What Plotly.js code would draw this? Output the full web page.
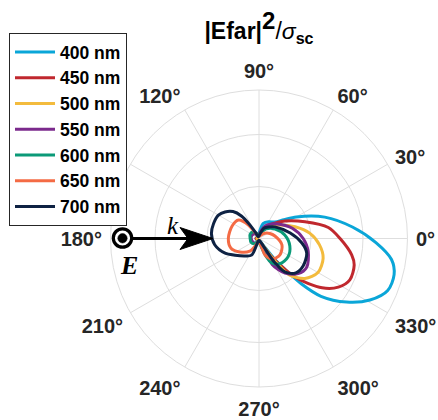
<!DOCTYPE html>
<html>
<head>
<meta charset="utf-8">
<script src="https://cdn.plot.ly/plotly-3.0.1.min.js"></script>
<style>
  html, body { margin: 0; padding: 0; background: #fff; }
  #chart { width: 438px; height: 420px; }
</style>
</head>
<body>
<div id="chart"></div>
<script>
// Far-field scattering patterns |Efar|^2 / sigma_sc for each wavelength
const wavelengths = ['400 nm', '450 nm', '500 nm', '550 nm', '600 nm', '650 nm', '700 nm'];
const colors = ['#0aa6d8', '#c0282e', '#f3bb3d', '#7b2a8c', '#0b9a78', '#f46b45', '#0e2243'];

const theta400 = [-90, -70, -58, -53, -50, -47, -43, -36, -29, -22, -15, -9, -2, 7, 18, 30, 37, 46, 60, 74, 84, 95, 130, 180, 230, 270];
const r400     = [0.04, 0.06, 0.15, 0.48, 0.77, 1.19, 1.63, 2.08, 2.44, 2.67, 2.69, 2.58, 2.25, 1.81, 1.33, 0.83, 0.60, 0.44, 0.37, 0.30, 0.15, 0.06, 0.04, 0.06, 0.04, 0.04];

const theta450 = [-90, -75, -60, -55, -52, -47, -38, -31.5, -24.5, -15.5, -10, 0, 9, 20, 34, 48, 58, 70, 85, 110, 180, 270];
const r450     = [0.04, 0.06, 0.19, 0.42, 0.62, 1.02, 1.54, 1.79, 1.92, 1.90, 1.81, 1.56, 1.35, 0.94, 0.60, 0.38, 0.28, 0.17, 0.08, 0.04, 0.06, 0.04];

const theta500 = [-90, -75, -62, -56, -53, -50, -41, -30, -17, -6, 6, 18, 33, 47, 60, 75, 90, 120, 180, 270];
const r500     = [0.04, 0.06, 0.12, 0.42, 0.67, 0.92, 1.17, 1.31, 1.29, 1.17, 0.98, 0.73, 0.48, 0.33, 0.23, 0.13, 0.06, 0.04, 0.04, 0.04];

const theta550 = [-90, -80, -70, -66, -63, -58, -53, -42, -31, -15, 0, 17, 37, 52, 64, 80, 100, 130, 155, 180, 220, 250, 270];
const r550     = [0.06, 0.08, 0.15, 0.29, 0.56, 0.71, 0.83, 1.01, 1.07, 0.98, 0.85, 0.67, 0.46, 0.35, 0.27, 0.12, 0.06, 0.12, 0.15, 0.15, 0.13, 0.08, 0.06];

const theta600 = [-90, -78, -72, -68, -63, -50.5, -32.5, -13.6, 7.7, 30.7, 53.6, 75, 95, 110, 130, 155, 180, 205, 230, 250, 270];
const r600     = [0.06, 0.12, 0.23, 0.38, 0.52, 0.63, 0.66, 0.61, 0.50, 0.36, 0.23, 0.10, 0.06, 0.10, 0.17, 0.19, 0.17, 0.17, 0.13, 0.06, 0.06];

const theta650 = [-90, -76, -72.5, -70, -57.6, -38, -16, 9, 25, 42, 60, 90, 115, 124, 128, 138, 155, 180, 199, 215, 234, 245, 260, 270];
const r650     = [0.06, 0.12, 0.19, 0.34, 0.47, 0.51, 0.46, 0.31, 0.23, 0.15, 0.08, 0.04, 0.06, 0.17, 0.33, 0.53, 0.57, 0.59, 0.57, 0.45, 0.30, 0.15, 0.06, 0.06];

const theta700 = [-90, -75, -62, -58.7, -57, -52, -43, -32, -17, -6, 10, 36, 50, 64.5, 80, 100, 116, 120, 123.7, 128, 134, 142, 150, 162, 174, 188, 203.5, 215, 231, 246, 250, 258, 270];
const r700     = [0.04, 0.04, 0.10, 0.26, 0.54, 0.82, 0.97, 1.00, 0.96, 0.83, 0.61, 0.38, 0.29, 0.22, 0.08, 0.04, 0.04, 0.12, 0.31, 0.55, 0.72, 0.83, 0.90, 0.92, 0.92, 0.86, 0.71, 0.56, 0.43, 0.35, 0.12, 0.04, 0.04];

const angleTicks = [0, 30, 60, 90, 120, 150, 180, 210, 240, 270, 300, 330];
const angleLabels = ['0°', '30°', '60°', '90°', '120°', '150°', '180°', '210°', '240°', '270°', '300°', '330°'];
const radialTicks = [1, 2];
const radialMax = 2.856;

const thetas = [theta400, theta450, theta500, theta550, theta600, theta650, theta700];
const radii  = [r400, r450, r500, r550, r600, r650, r700];

const traces = wavelengths.map((name, i) => ({
  type: 'scatterpolar',
  mode: 'lines',
  name: name,
  theta: thetas[i],
  r: radii[i],
  line: { color: colors[i], width: 3, shape: 'spline', smoothing: 0.85 },
  hoverinfo: 'skip'
}));

// page pixel -> paper fraction helpers for the incident-field sketch
const W = 438, H = 420;
const px = x => x / W;
const py = y => 1 - y / H;

const gridColor = '#dedede';
const sans = 'Liberation Sans, Arial, Helvetica, sans-serif';
const serif = 'Liberation Serif, Times New Roman, serif';

const layout = {
  width: W,
  height: H,
  margin: { l: 0, r: 0, t: 0, b: 0 },
  paper_bgcolor: '#ffffff',
  showlegend: true,
  title: {
    text: '|Efar|<sup><span style="font-size:24px">2</span></sup><span style="font-weight:normal">/</span><span style="font-style:italic;font-weight:normal">σ</span><sub>sc</sub>',
    font: { family: sans, size: 23, weight: 'bold', color: '#000' },
    xref: 'container', yref: 'container',
    x: 259 / W, xanchor: 'center',
    y: 1 - 31 / H, yanchor: 'middle'
  },
  polar: {
    domain: { x: [110.5 / W, 407.5 / W], y: [1 - 387 / H, 1 - 90 / H] },
    bgcolor: '#ffffff',
    angularaxis: {
      rotation: 0,
      direction: 'counterclockwise',
      tickmode: 'array',
      tickvals: angleTicks,
      ticktext: angleLabels,
      ticks: 'outside',
      ticklen: 4,
      tickcolor: 'rgba(0,0,0,0)',
      showline: true,
      linecolor: gridColor,
      linewidth: 1,
      gridcolor: gridColor,
      gridwidth: 1,
      tickfont: { family: sans, size: 20, weight: 'bold', color: '#262626' }
    },
    radialaxis: {
      range: [0, radialMax],
      tickmode: 'array',
      tickvals: radialTicks,
      showticklabels: false,
      ticks: '',
      showline: false,
      gridcolor: gridColor,
      gridwidth: 1
    }
  },
  legend: {
    x: px(9), y: py(33), xanchor: 'left', yanchor: 'top',
    bgcolor: '#ffffff',
    bordercolor: '#262626',
    borderwidth: 1,
    itemwidth: 40,
    tracegroupgap: 0,
    font: { family: sans, size: 17.5, weight: 'bold', color: '#000' }
  },
  shapes: [
    // arrow shaft (wave vector k)
    { type: 'line', xref: 'paper', yref: 'paper', x0: px(132), y0: py(238.5), x1: px(196), y1: py(238.5),
      line: { color: '#000', width: 3 } },
    // arrow head
    { type: 'path', xref: 'paper', yref: 'paper',
      path: `M ${px(213)} ${py(238.5)} L ${px(180)} ${py(227.5)} L ${px(188)} ${py(238.5)} L ${px(180)} ${py(249.5)} Z`,
      fillcolor: '#000', line: { color: '#000', width: 1 } },
    // E field out of plane: ring and dot
    { type: 'circle', xref: 'paper', yref: 'paper', x0: px(113.3), y0: py(247.2), x1: px(131.7), y1: py(228.8),
      fillcolor: '#ffffff', line: { color: '#000', width: 3.2 } },
    { type: 'circle', xref: 'paper', yref: 'paper', x0: px(117.8), y0: py(243), x1: px(127.2), y1: py(233.6),
      fillcolor: '#000', line: { color: '#000', width: 0.5 } }
  ],
  annotations: [
    { xref: 'paper', yref: 'paper', x: px(173), y: py(225), text: '<i>k</i>', showarrow: false,
      xanchor: 'center', yanchor: 'middle', font: { family: serif, size: 25, color: '#000' } },
    { xref: 'paper', yref: 'paper', x: px(129), y: py(265), text: '<b><i>E</i></b>', showarrow: false,
      xanchor: 'center', yanchor: 'middle', font: { family: serif, size: 26, color: '#000' } }
  ]
};

Plotly.newPlot('chart', traces, layout, { staticPlot: true, displayModeBar: false });
</script>
</body>
</html>
